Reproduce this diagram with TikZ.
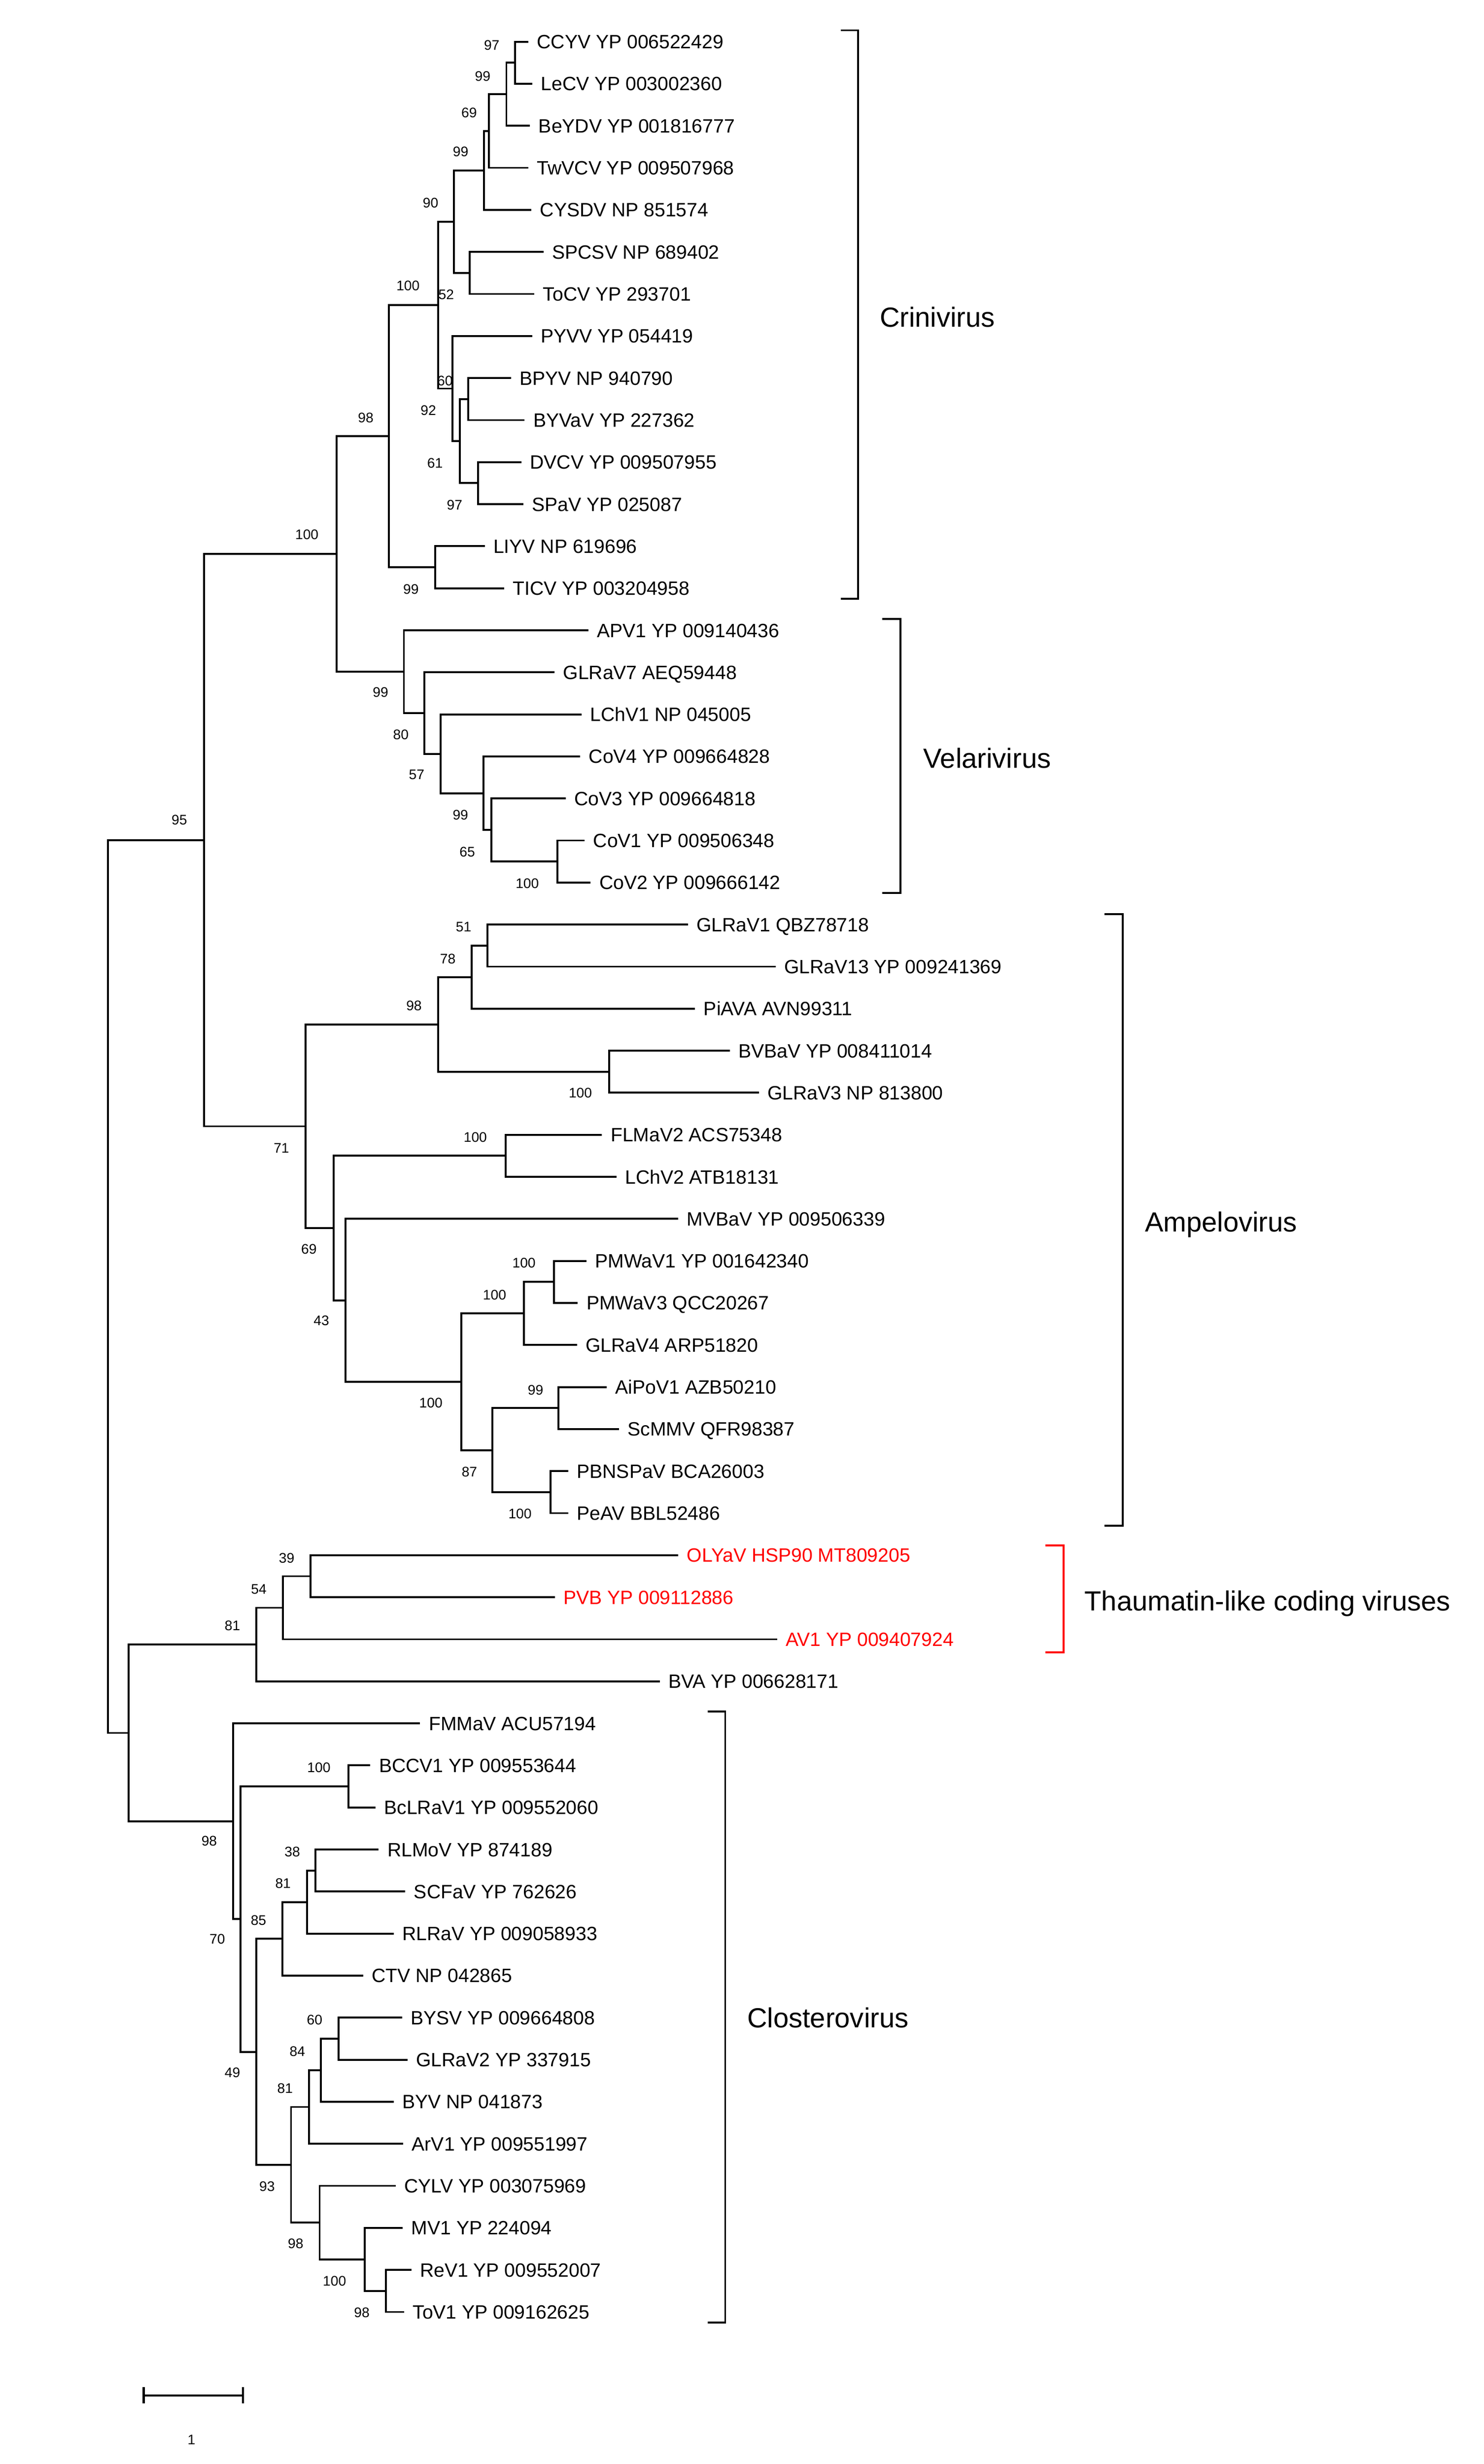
\documentclass[tikz,border=0pt]{standalone}
\usepackage{fontspec}
\setmainfont{Liberation Sans}
\begin{document}
\begin{tikzpicture}[x=1pt,y=-1pt,
  br/.style={line width=1.2pt},
  leaf/.style={anchor=base west,inner sep=0pt,xshift=5.3pt,yshift=-4.37pt,font=\fontsize{12.2}{14}\selectfont},
  redleaf/.style={leaf,text=red},
  boot/.style={anchor=center,inner sep=0pt,font=\fontsize{8.8}{10}\selectfont},
  grp/.style={anchor=base west,inner sep=0pt,font=\fontsize{17.5}{20}\selectfont},
  bracket/.style={line width=1.2pt}]
\useasboundingbox (0,0) rectangle (939.0,1559.6);
% leaf tips
\coordinate (t1) at (334.4,26.4);
\coordinate (t2) at (336.9,53.01);
\coordinate (t3) at (335.4,79.62);
\coordinate (t4) at (334.4,106.23);
\coordinate (t5) at (336.3,132.84);
\coordinate (t6) at (344.0,159.45);
\coordinate (t7) at (338.2,186.06);
\coordinate (t8) at (336.9,212.67);
\coordinate (t9) at (323.4,239.28);
\coordinate (t10) at (332.0,265.89);
\coordinate (t11) at (330.0,292.5);
\coordinate (t12) at (331.2,319.11);
\coordinate (t13) at (306.8,345.72);
\coordinate (t14) at (319.0,372.33);
\coordinate (t15) at (372.4,398.94);
\coordinate (t16) at (350.9,425.55);
\coordinate (t17) at (368.1,452.16);
\coordinate (t18) at (367.2,478.77);
\coordinate (t19) at (358.1,505.38);
\coordinate (t20) at (370.0,531.99);
\coordinate (t21) at (373.8,558.6);
\coordinate (t22) at (435.3,585.21);
\coordinate (t23) at (490.8,611.82);
\coordinate (t24) at (439.9,638.43);
\coordinate (t25) at (461.8,665.04);
\coordinate (t26) at (480.2,691.65);
\coordinate (t27) at (381.0,718.26);
\coordinate (t28) at (390.1,744.87);
\coordinate (t29) at (429.2,771.48);
\coordinate (t30) at (371.2,798.09);
\coordinate (t31) at (365.7,824.7);
\coordinate (t32) at (365.1,851.31);
\coordinate (t33) at (384.0,877.92);
\coordinate (t34) at (391.7,904.53);
\coordinate (t35) at (359.6,931.14);
\coordinate (t36) at (359.6,957.75);
\coordinate (t37) at (429.3,984.36);
\coordinate (t38) at (351.1,1010.97);
\coordinate (t39) at (491.8,1037.58);
\coordinate (t40) at (417.5,1064.19);
\coordinate (t41) at (265.9,1090.8);
\coordinate (t42) at (234.4,1117.41);
\coordinate (t43) at (237.6,1144.02);
\coordinate (t44) at (239.7,1170.63);
\coordinate (t45) at (256.5,1197.24);
\coordinate (t46) at (249.1,1223.85);
\coordinate (t47) at (229.8,1250.46);
\coordinate (t48) at (254.4,1277.07);
\coordinate (t49) at (257.9,1303.68);
\coordinate (t50) at (249.1,1330.29);
\coordinate (t51) at (255.2,1356.9);
\coordinate (t52) at (250.4,1383.51);
\coordinate (t53) at (254.9,1410.12);
\coordinate (t54) at (260.3,1436.73);
\coordinate (t55) at (255.7,1463.34);
% internal nodes
\coordinate (A) at (325.9,39.71);
\coordinate (B) at (320.5,59.67);
\coordinate (C) at (309.3,82.95);
\coordinate (D) at (306.4,107.9);
\coordinate (F) at (297.3,172.76);
\coordinate (E) at (287.3,140.33);
\coordinate (K) at (296.3,252.59);
\coordinate (L) at (302.6,305.81);
\coordinate (J) at (291.0,279.2);
\coordinate (I) at (286.4,245.94);
\coordinate (G) at (277.4,193.14);
\coordinate (M) at (275.3,359.03);
\coordinate (H) at (246.2,276.09);
\coordinate (V) at (352.9,545.3);
\coordinate (U) at (310.9,525.34);
\coordinate (T) at (306.0,502.06);
\coordinate (S) at (278.8,477.11);
\coordinate (R) at (268.5,451.33);
\coordinate (Q) at (255.6,425.14);
\coordinate (N) at (213.0,350.62);
\coordinate (W) at (308.4,598.52);
\coordinate (X) at (298.6,618.48);
\coordinate (Z) at (385.6,678.35);
\coordinate (Y) at (277.3,648.42);
\coordinate (AB) at (320.0,731.57);
\coordinate (AG) at (350.5,811.4);
\coordinate (AF) at (331.6,831.36);
\coordinate (AI) at (353.5,891.23);
\coordinate (AJ) at (348.4,944.45);
\coordinate (AH) at (311.7,917.84);
\coordinate (AE) at (291.9,874.6);
\coordinate (AD) at (218.7,823.04);
\coordinate (AC) at (211.1,777.31);
\coordinate (AA) at (193.4,712.87);
\coordinate (O) at (129.2,531.75);
\coordinate (AK) at (196.6,997.67);
\coordinate (AL) at (179.1,1017.63);
\coordinate (AM) at (162.3,1040.91);
\coordinate (AQ) at (220.5,1130.72);
\coordinate (AR) at (199.7,1183.94);
\coordinate (AS) at (194.3,1203.9);
\coordinate (AT) at (178.8,1227.18);
\coordinate (AY) at (214.4,1290.38);
\coordinate (AX) at (203.1,1310.34);
\coordinate (AW) at (195.7,1333.62);
\coordinate (BB) at (244.3,1450.04);
\coordinate (BA) at (230.9,1430.08);
\coordinate (AZ) at (202.3,1406.8);
\coordinate (AV) at (184.2,1370.21);
\coordinate (AU) at (162.3,1298.7);
\coordinate (AP) at (152.2,1214.71);
\coordinate (AO) at (147.6,1152.76);
\coordinate (AN) at (81.3,1096.84);
\coordinate (P) at (68.3,814.3);
% branches
\foreach \p/\a/\b in {A/t1/t2,B/A/t3,C/B/t4,D/C/t5,F/t6/t7,E/D/F,K/t9/t10,L/t11/t12,J/K/L,I/t8/J,G/E/I,M/t13/t14,H/G/M,
  V/t20/t21,U/t19/V,T/t18/U,S/t17/T,R/t16/S,Q/t15/R,N/H/Q,
  W/t22/t23,X/W/t24,Z/t25/t26,Y/X/Z,AB/t27/t28,AG/t30/t31,AF/AG/t32,AI/t33/t34,AJ/t35/t36,AH/AI/AJ,AE/AF/AH,AD/t29/AE,AC/AB/AD,AA/Y/AC,O/N/AA,
  AK/t37/t38,AL/AK/t39,AM/AL/t40,AQ/t42/t43,AR/t44/t45,AS/AR/t46,AT/AS/t47,AY/t48/t49,AX/AY/t50,AW/AX/t51,BB/t54/t55,BA/t53/BB,AZ/t52/BA,AV/AW/AZ,AU/AT/AV,AP/AQ/AU,AO/t41/AP,AN/AM/AO,P/O/AN}
  \draw[br] (\a) -| (\p) |- (\b);
% leaf labels
\node[leaf] (n1) at (t1) {CCYV YP 006522429};
\node[leaf] (n2) at (t2) {LeCV YP 003002360};
\node[leaf] (n3) at (t3) {BeYDV YP 001816777};
\node[leaf] (n4) at (t4) {TwVCV YP 009507968};
\node[leaf] (n5) at (t5) {CYSDV NP 851574};
\node[leaf] (n6) at (t6) {SPCSV NP 689402};
\node[leaf] (n7) at (t7) {ToCV YP 293701};
\node[leaf] (n8) at (t8) {PYVV YP 054419};
\node[leaf] (n9) at (t9) {BPYV NP 940790};
\node[leaf] (n10) at (t10) {BYVaV YP 227362};
\node[leaf] (n11) at (t11) {DVCV YP 009507955};
\node[leaf] (n12) at (t12) {SPaV YP 025087};
\node[leaf] (n13) at (t13) {LIYV NP 619696};
\node[leaf] (n14) at (t14) {TICV YP 003204958};
\node[leaf] (n15) at (t15) {APV1 YP 009140436};
\node[leaf] (n16) at (t16) {GLRaV7 AEQ59448};
\node[leaf] (n17) at (t17) {LChV1 NP 045005};
\node[leaf] (n18) at (t18) {CoV4 YP 009664828};
\node[leaf] (n19) at (t19) {CoV3 YP 009664818};
\node[leaf] (n20) at (t20) {CoV1 YP 009506348};
\node[leaf] (n21) at (t21) {CoV2 YP 009666142};
\node[leaf] (n22) at (t22) {GLRaV1 QBZ78718};
\node[leaf] (n23) at (t23) {GLRaV13 YP 009241369};
\node[leaf] (n24) at (t24) {PiAVA AVN99311};
\node[leaf] (n25) at (t25) {BVBaV YP 008411014};
\node[leaf] (n26) at (t26) {GLRaV3 NP 813800};
\node[leaf] (n27) at (t27) {FLMaV2 ACS75348};
\node[leaf] (n28) at (t28) {LChV2 ATB18131};
\node[leaf] (n29) at (t29) {MVBaV YP 009506339};
\node[leaf] (n30) at (t30) {PMWaV1 YP 001642340};
\node[leaf] (n31) at (t31) {PMWaV3 QCC20267};
\node[leaf] (n32) at (t32) {GLRaV4 ARP51820};
\node[leaf] (n33) at (t33) {AiPoV1 AZB50210};
\node[leaf] (n34) at (t34) {ScMMV QFR98387};
\node[leaf] (n35) at (t35) {PBNSPaV BCA26003};
\node[leaf] (n36) at (t36) {PeAV BBL52486};
\node[redleaf] (n37) at (t37) {OLYaV HSP90 MT809205};
\node[redleaf] (n38) at (t38) {PVB YP 009112886};
\node[redleaf] (n39) at (t39) {AV1 YP 009407924};
\node[leaf] (n40) at (t40) {BVA YP 006628171};
\node[leaf] (n41) at (t41) {FMMaV ACU57194};
\node[leaf] (n42) at (t42) {BCCV1 YP 009553644};
\node[leaf] (n43) at (t43) {BcLRaV1 YP 009552060};
\node[leaf] (n44) at (t44) {RLMoV YP 874189};
\node[leaf] (n45) at (t45) {SCFaV YP 762626};
\node[leaf] (n46) at (t46) {RLRaV YP 009058933};
\node[leaf] (n47) at (t47) {CTV NP 042865};
\node[leaf] (n48) at (t48) {BYSV YP 009664808};
\node[leaf] (n49) at (t49) {GLRaV2 YP 337915};
\node[leaf] (n50) at (t50) {BYV NP 041873};
\node[leaf] (n51) at (t51) {ArV1 YP 009551997};
\node[leaf] (n52) at (t52) {CYLV YP 003075969};
\node[leaf] (n53) at (t53) {MV1 YP 224094};
\node[leaf] (n54) at (t54) {ReV1 YP 009552007};
\node[leaf] (n55) at (t55) {ToV1 YP 009162625};
% bootstrap values
\foreach \v/\x/\y [count=\i] in {97/311.2/28.5,99/305.5/48.3,69/296.9/71.3,99/291.5/96.1,90/272.5/128.3,
  100/258.2/181,52/282.4/186.5,60/281.6/241.1,92/271.1/259.9,61/275.3/293.1,97/287.7/319.5,
  98/231.5/264.4,99/260.1/372.9,100/194.2/338.4,95/113.5/519,
  99/240.8/438.3,80/253.7/465.1,57/263.7/490.3,99/291.4/516.0,65/295.7/539.2,100/333.7/559.3,
  51/293.4/586.6,78/283.4/606.9,98/262/636.6,100/367.3/691.9,71/178.1/726.6,100/300.8/719.8,
  69/195.5/790.7,43/203.4/836.0,100/272.7/888.1,100/313/819.7,100/331.6/799.3,87/297.1/931.7,
  99/338.9/879.7,100/329.1/958.1,39/181.4/986.2,54/163.8/1005.9,81/147.1/1029.0,
  98/132.4/1165.3,100/201.8/1118.9,38/185/1172,81/179.1/1192.0,85/163.6/1215.4,70/137.5/1227.4,
  49/147.1/1311.8,93/169/1383.9,81/180.4/1321.7,84/188.2/1298.5,60/199.1/1278.5,98/187.1/1420.1,
  100/211.7/1443.7,98/229.0/1463.7}
  \node[boot] (b\i) at (\x,\y) {\v};
% brackets and group labels
\coordinate (cr1) at (532,19.2); \coordinate (cr2) at (543,379);
\draw[bracket] (cr1) -| (cr2) -- ++(-11,0);
\node[grp] (crini) at (556.6,207.1) {Crinivirus};
\coordinate (ve1) at (558.4,391.8); \coordinate (ve2) at (569.8,565.3);
\draw[bracket] (ve1) -| (ve2) -- ++(-11.4,0);
\node[grp] (velar) at (584.2,486.0) {Velarivirus};
\coordinate (am1) at (698.9,578.7); \coordinate (am2) at (710.6,965.7);
\draw[bracket] (am1) -| (am2) -- ++(-11.7,0);
\node[grp] (ampel) at (724.4,779.6) {Ampelovirus};
\coordinate (th1) at (661.6,978.2); \coordinate (th2) at (673.2,1045.8);
\draw[bracket,red] (th1) -| (th2) -- ++(-11.6,0);
\node[grp] (thaum) at (686.2,1019.4) {Thaumatin-like coding viruses};
\coordinate (cl1) at (447.8,1083.2); \coordinate (cl2) at (459.0,1470.0);
\draw[bracket] (cl1) -| (cl2) -- ++(-11.2,0);
\node[grp] (clost) at (472.7,1283.3) {Closterovirus};
% scale bar
\coordinate (sbl) at (90.9,1516.2); \coordinate (sbr) at (153.8,1516.2);
\draw[line width=1.4pt] (sbl) -- (sbr);
\draw[line width=1.3pt] ([yshift=5.2pt]sbl) -- ([yshift=-5pt]sbl);
\draw[line width=1.3pt] ([yshift=5.2pt]sbr) -- ([yshift=-5pt]sbr);
\node[boot] (sblab) at (121.2,1544.2) {1};
\end{tikzpicture}
\end{document}
